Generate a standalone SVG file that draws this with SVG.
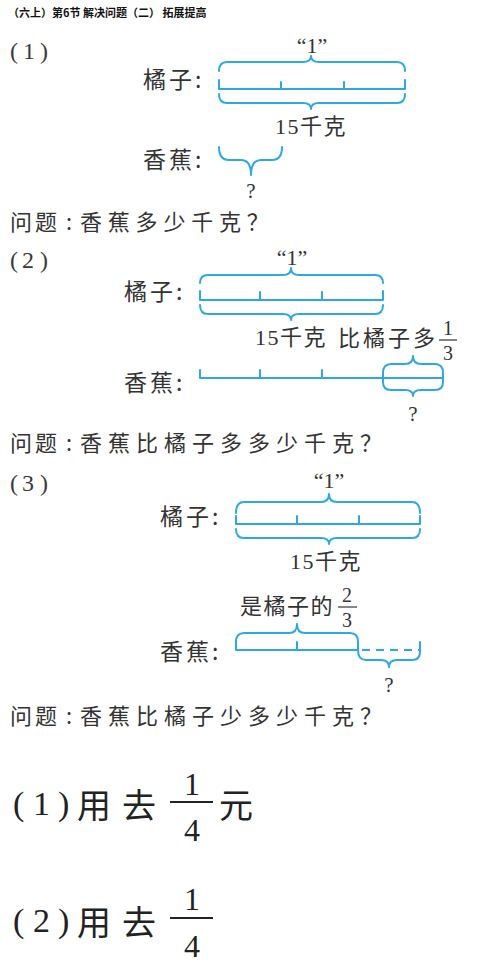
<svg xmlns="http://www.w3.org/2000/svg" width="477" height="969" viewBox="0 0 477 969">
<style>
.bl{fill:none;stroke:#2ea8e0;stroke-width:2;stroke-linecap:round;stroke-linejoin:round}
.dash{stroke-dasharray:8 6;stroke-linecap:butt}
.cj{font-family:"Noto Sans CJK SC","Liberation Serif",sans-serif;fill:#333}
.lb{font-family:"Noto Sans CJK SC",sans-serif;font-size:23px;letter-spacing:3px;fill:#333}
.sf{font-family:"Liberation Serif","Noto Sans CJK SC",serif;fill:#333}
.q{font-family:"Noto Sans CJK SC",sans-serif;font-size:22px;fill:#333}
.num{font-family:"Liberation Serif",serif;font-size:24px;fill:#3a3a3a}
.fr{font-family:"Liberation Serif",serif;font-size:20px;fill:#333;text-anchor:middle}
.qm{font-family:"Liberation Serif",serif;font-size:21px;fill:#333;text-anchor:middle}
.big{font-family:"Noto Sans CJK SC",sans-serif;font-size:34px;fill:#222}
.bign{font-family:"Liberation Serif",serif;font-size:34px;fill:#222}
.bigf{font-family:"Liberation Serif",serif;font-size:32px;fill:#222;text-anchor:middle}
</style>
<rect width="477" height="969" fill="#fff"/>
<text x="8" y="17" style="font-family:'Noto Sans CJK SC',sans-serif;font-size:11px;font-weight:bold;fill:#111">（六上）第6节 解决问题（二） 拓展提高</text>

<g id="part1">
<text class="num" x="10 23 40" y="59">(1)</text>
<text class="sf" x="312" y="53" font-size="22" text-anchor="middle">“1”</text>
<text class="lb" x="143" y="88">橘子:</text>
<text class="sf" x="275" y="134" font-size="22" letter-spacing="1.5">15千克</text>
<text class="lb" x="143" y="168">香蕉:</text>
<text class="qm" x="251" y="198">?</text>
<text class="q" x="10" y="230"><tspan letter-spacing="3">问题</tspan><tspan x="66">:</tspan><tspan x="80" letter-spacing="5.8">香蕉多少千克？</tspan></text>
</g>

<g id="part2">
<text class="num" x="10 22 40" y="268">(2)</text>
<text class="sf" x="292" y="265" font-size="22" text-anchor="middle">“1”</text>
<text class="lb" x="124" y="300">橘子:</text>
<text class="sf" x="255" y="345" font-size="22" letter-spacing="1.5">15千克</text>
<text class="cj" x="338" y="346" font-size="22" letter-spacing="3">比橘子多</text>
<text class="fr" x="448" y="335">1</text>
<line x1="439" y1="340" x2="457" y2="340" stroke="#333" stroke-width="1.2"/>
<text class="fr" x="448" y="360">3</text>
<text class="lb" x="124" y="391">香蕉:</text>
<text class="qm" x="413" y="421">?</text>
<text class="q" x="10" y="451"><tspan letter-spacing="3">问题</tspan><tspan x="66">:</tspan><tspan x="80" letter-spacing="6">香蕉比橘子多多少千克？</tspan></text>
</g>

<g id="part3">
<text class="num" x="10 22 40" y="491">(3)</text>
<text class="sf" x="329" y="488" font-size="22" text-anchor="middle">“1”</text>
<text class="lb" x="160" y="525">橘子:</text>
<text class="sf" x="290" y="569" font-size="22" letter-spacing="1.5">15千克</text>
<text class="cj" x="240" y="614" font-size="22" letter-spacing="1.5">是橘子的</text>
<text class="fr" x="347" y="602">2</text>
<line x1="338" y1="607" x2="357" y2="607" stroke="#333" stroke-width="1.2"/>
<text class="fr" x="347" y="627">3</text>
<text class="lb" x="160" y="660">香蕉:</text>
<text class="qm" x="389" y="692">?</text>
<text class="q" x="10" y="724"><tspan letter-spacing="3">问题</tspan><tspan x="66">:</tspan><tspan x="80" letter-spacing="6">香蕉比橘子少多少千克？</tspan></text>
</g>

<g id="answers">
<text class="bign" x="13 33 58" y="815">(1)</text>
<text class="big" x="77" y="818" letter-spacing="11">用去</text>
<text class="bigf" x="192" y="795">1</text>
<line x1="170" y1="802" x2="213" y2="802" stroke="#222" stroke-width="2"/>
<text class="bigf" x="192" y="841">4</text>
<text class="big" x="219" y="818">元</text>
<text class="bign" x="13 33 58" y="932">(2)</text>
<text class="big" x="77" y="935" letter-spacing="11">用去</text>
<text class="bigf" x="192" y="910">1</text>
<line x1="170" y1="918" x2="213" y2="918" stroke="#222" stroke-width="2"/>
<text class="bigf" x="192" y="957">4</text>
</g>

<g id="connectors">
<path class="bl" d="M219,71 Q219,62 227,62 L303,62 Q311,62 311,56 Q311,62 319,62 L397,62 Q405,62 405,71"/>
<path class="bl" d="M219,89 H405 M219,80 V89 M281,82 V89 M344,82 V89 M405,80 V89"/>
<path class="bl" d="M219,94 Q219,103 227,103 L303,103 Q311,103 311,109 Q311,103 319,103 L397,103 Q405,103 405,94"/>
<path class="bl" d="M219,147 Q219,160 229,160 L241,160 Q251,160 251,175 Q251,160 261,160 L272,160 Q282,160 282,147"/>
<path class="bl" d="M200,283 Q200,275 208,275 L283,275 Q291,275 291,268 Q291,275 299,275 L375,275 Q383,275 383,283"/>
<path class="bl" d="M200,300 H383 M200,291 V300 M260,292 V300 M322,292 V300 M383,291 V300"/>
<path class="bl" d="M200,305 Q200,314 208,314 L283,314 Q291,314 291,320 Q291,314 299,314 L375,314 Q383,314 383,305"/>
<path class="bl" d="M200,378 H443 M200,370 V378 M260,370 V378 M322,370 V378"/>
<path class="bl" d="M383,378 V373 Q383,364 391,364 L405,364 Q413,364 413,356 Q413,364 421,364 L435,364 Q443,364 443,373 V378"/>
<path class="bl" d="M383,378 V382 Q383,390 391,390 L405,390 Q413,390 413,396 Q413,390 421,390 L435,390 Q443,390 443,382 V378"/>
<path class="bl" d="M236,513 Q236,502 244,502 L321,502 Q329,502 329,494 Q329,502 337,502 L412,502 Q420,502 420,513"/>
<path class="bl" d="M236,524 H420 M236,516 V524 M297,516 V524 M359,516 V524 M420,516 V524"/>
<path class="bl" d="M236,529 Q236,538 244,538 L321,538 Q329,538 329,544 Q329,538 337,538 L412,538 Q420,538 420,529"/>
<path class="bl" d="M236,650 H358 M236,642 V650 M297,642 V650"/>
<path class="bl" d="M236,642 Q236,633 244,633 L289,633 Q297,633 297,624 Q297,633 305,633 L350,633 Q358,633 358,642 V650"/>
<path class="bl dash" d="M362,650 H420"/>
<path class="bl" d="M420,642 V652"/>
<path class="bl" d="M358,650 Q358,660 366,660 L381,660 Q389,660 389,667 Q389,660 397,660 L412,660 Q420,660 420,652"/>
</g>
</svg>
